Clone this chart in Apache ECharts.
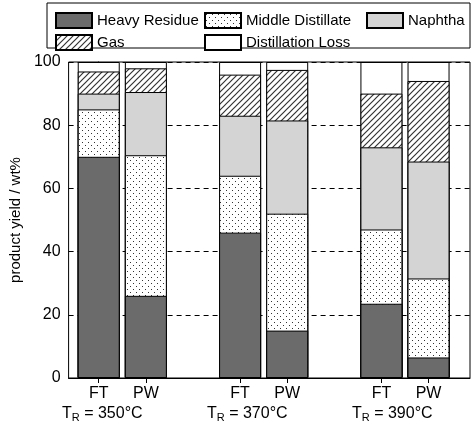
<!DOCTYPE html>
<html><head><meta charset="utf-8">
<script src="https://cdn.jsdelivr.net/npm/echarts@6/dist/echarts.min.js"></script>
<style>html,body{margin:0;padding:0;background:#fff}#c{width:474px;height:438px}</style>
</head><body><div id="c"></div>
<script>
// bar positions on x (gaps between temperature groups)
const xPos = [0, 1, 3, 4, 6, 7];
const xLabels = ['FT', 'PW', 'FT', 'PW', 'FT', 'PW'];
const groupLabels = ['350°C', '370°C', '390°C'];
const heavyResidue = [70, 26, 46, 15, 23.5, 6.5];
const middleDistillate = [15, 44.5, 18, 37, 23.5, 25];
const naphtha = [5, 20, 19, 29.5, 26, 37];
const gas = [7, 7.5, 13, 16, 17, 25.5];
const distLoss = [3, 2, 4, 2.5, 10, 6];

function pattern(kind) {
  const c = document.createElement('canvas');
  c.width = 6; c.height = 6;
  const g = c.getContext('2d');
  g.fillStyle = '#fff'; g.fillRect(0, 0, 6, 6);
  g.fillStyle = '#333'; g.strokeStyle = '#333';
  if (kind === 'dots') {
    g.fillRect(1, 1, 1, 1); g.fillRect(4, 4, 1, 1);
  } else {
    g.lineWidth = 1.2;
    g.beginPath();
    g.moveTo(0, 6); g.lineTo(6, 0);
    g.moveTo(-1, 1); g.lineTo(1, -1);
    g.moveTo(5, 7); g.lineTo(7, 5);
    g.stroke();
  }
  return { image: c, repeat: 'repeat' };
}

// cumulative tops, drawn back to front (no stack on value x axis)
const layers = [heavyResidue, middleDistillate, naphtha, gas, distLoss];
const tops = layers.map((_, k) => xPos.map((_, i) => layers.slice(0, k + 1).reduce((s, a) => s + a[i], 0)));

function mk(name, k, color) {
  return {
    name, type: 'bar', barWidth: 42, barGap: '-100%', z: 2 + (5 - k),
    data: tops[k].map((v, i) => [xPos[i], v]),
    itemStyle: { color, borderColor: '#000', borderWidth: 1 }
  };
}

const chart = echarts.init(document.getElementById('c'));
const font = 'Arial';
const leg = (left, data) => ({
  left, top: 7, orient: 'vertical', data, itemWidth: 36, itemHeight: 15, itemGap: 5, icon: 'rect',
  textStyle: { fontSize: 15, fontFamily: font, color: '#000' }
});
chart.setOption({
  animation: false,
  legend: [
    leg(50, ['Heavy Residue', 'Gas']),
    leg(199, ['Middle Distillate', 'Distillation Loss']),
    leg(361, ['Naphtha'])
  ],
  graphic: [
    { type: 'rect', shape: { x: 47, y: 3, width: 423, height: 45 }, style: { fill: null, stroke: '#000', lineWidth: 1 } }
  ].concat(groupLabels.map((t, i) => ({
    type: 'text', left: 62 + i * 145, top: 406,
    style: {
      text: '{n|T}{s|R}{n| = ' + t + '}',
      rich: { n: { fontSize: 16, fontFamily: font, fill: '#000' }, s: { fontSize: 11, fontFamily: font, fill: '#000', padding: [8, 0, 0, 0] } }
    }
  }))),
  grid: { left: 58, right: 4, top: 62, bottom: 60 },
  xAxis: {
    type: 'value', min: -0.64, max: 7.88,
    splitLine: { show: false },
    axisLine: { lineStyle: { color: '#000' } },
    axisTick: { customValues: xPos, inside: false, length: 5, lineStyle: { color: '#000' } },
    axisLabel: {
      customValues: xPos, fontSize: 16, fontFamily: font, color: '#000', margin: 8,
      formatter: v => xLabels[xPos.indexOf(v)] || ''
    }
  },
  yAxis: {
    type: 'value', min: 0, max: 100, interval: 20,
    name: 'product yield / wt%', nameLocation: 'middle', nameGap: 34,
    nameTextStyle: { fontSize: 15, fontFamily: font, color: '#000' },
    axisLine: { show: true, lineStyle: { color: '#000' } },
    axisTick: { inside: true, length: 5, lineStyle: { color: '#000' } },
    minorTick: { show: true, splitNumber: 2, length: 3, lineStyle: { color: '#000' } },
    axisLabel: { fontSize: 16, fontFamily: font, color: '#000' },
    splitLine: { show: true, lineStyle: { color: '#000', type: [5, 4] } }
  },
  series: [
    mk('Heavy Residue', 0, '#6b6b6b'),
    mk('Middle Distillate', 1, pattern('dots')),
    mk('Naphtha', 2, '#d4d4d4'),
    mk('Gas', 3, pattern('hatch')),
    mk('Distillation Loss', 4, '#fff')
  ]
});
// frame around plot
const g = chart.getModel().getComponent('grid').coordinateSystem.getRect();
chart.setOption({ graphic: [{ type: 'rect', id: 'frame', z: 10, shape: { x: g.x, y: g.y, width: g.width, height: g.height }, style: { fill: null, stroke: '#000', lineWidth: 1 } }] });
</script></body></html>
